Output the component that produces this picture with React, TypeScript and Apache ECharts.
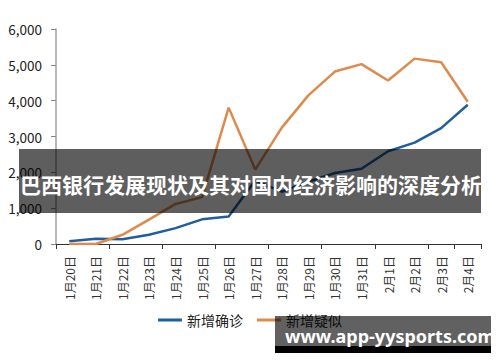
import React, { useEffect, useRef } from "react";
import * as echarts from "echarts";

const categories = [
  "1月20日", "1月21日", "1月22日", "1月23日", "1月24日", "1月25日", "1月26日", "1月27日",
  "1月28日", "1月29日", "1月30日", "1月31日", "2月1日", "2月2日", "2月3日", "2月4日",
];
const confirmed = [77, 149, 131, 259, 444, 688, 769, 1771, 1459, 1737, 1982, 2102, 2590, 2829, 3235, 3887];
const suspected = [0, 0, 257, 680, 1118, 1309, 3806, 2077, 3248, 4148, 4812, 5019, 4562, 5173, 5072, 3971];
const seriesNames = ["新增确诊", "新增疑似"];
const bannerTitle = "巴西银行发展现状及其对国内经济影响的深度分析";
const watermark = "www.app-yysports.com";

const FONT = "'Noto Sans CJK SC', 'Noto Sans', sans-serif";

export default function App() {
  const ref = useRef<HTMLDivElement>(null);
  useEffect(() => {
    if (!ref.current) return;
    const chart = echarts.init(ref.current, undefined, { renderer: "svg" });
    chart.setOption({
      animation: false,
      backgroundColor: "#ffffff",
      textStyle: { fontFamily: FONT },
      grid: { left: 56, right: 19, top: 29, bottom: 118, containLabel: false },
      legend: {
        data: seriesNames,
        bottom: 30,
        left: "center",
        icon: "rect",
        itemWidth: 24,
        itemHeight: 3,
        itemGap: 14,
        textStyle: { fontSize: 14, color: "#222", fontFamily: FONT },
      },
      xAxis: {
        type: "category",
        data: categories,
        boundaryGap: true,
        axisLine: { lineStyle: { color: "#333", width: 1.2 } },
        axisTick: { show: true, interval: 1, length: 5, alignWithLabel: false, lineStyle: { color: "#333" } },
        axisLabel: { rotate: 90, interval: 0, fontSize: 12, color: "#333", margin: 12, fontFamily: FONT },
      },
      yAxis: {
        type: "value",
        min: 0,
        max: 6000,
        interval: 1000,
        axisLine: { show: true, lineStyle: { color: "#a0a0a0", width: 1.5 } },
        axisTick: { show: true, length: 5, lineStyle: { color: "#888" } },
        splitLine: { show: false },
        axisLabel: {
          fontSize: 13.5,
          color: "#222",
          margin: 14,
          fontFamily: FONT,
          formatter: (v: number) => v.toLocaleString("en-US"),
        },
      },
      series: [
        {
          name: seriesNames[0],
          type: "line",
          data: confirmed,
          showSymbol: false,
          symbol: "none",
          lineStyle: { color: "#1f5f9e", width: 2.5 },
          itemStyle: { color: "#1f5f9e" },
        },
        {
          name: seriesNames[1],
          type: "line",
          data: suspected,
          showSymbol: false,
          symbol: "none",
          lineStyle: { color: "#dd8a4c", width: 2.5 },
          itemStyle: { color: "#dd8a4c" },
        },
      ],
      graphic: [
        {
          type: "rect",
          z: 100,
          shape: { x: 19, y: 149, width: 462, height: 64 },
          style: { fill: "rgba(0,0,0,0.63)" },
        },
        {
          type: "text",
          z: 101,
          x: 20,
          y: 184,
          style: {
            text: bannerTitle,
            fill: "#ffffff",
            font: `bold 21px ${FONT}`,
            verticalAlign: "middle",
            align: "left",
          },
        },
        {
          type: "rect",
          z: 100,
          shape: { x: 275, y: 316, width: 216, height: 30 },
          style: { fill: "rgba(0,0,0,0.62)" },
        },
        {
          type: "rect",
          z: 100,
          shape: { x: 275, y: 346, width: 216, height: 7 },
          style: { fill: "#000000" },
        },
        {
          type: "text",
          z: 101,
          x: 285,
          y: 336,
          style: {
            text: watermark,
            fill: "#ffffff",
            font: `bold 18px 'Noto Sans', sans-serif`,
            verticalAlign: "middle",
            align: "left",
          },
        },
      ],
    });
    return () => chart.dispose();
  }, []);
  return <div ref={ref} style={{ width: 500, height: 362, position: "absolute", left: 0, top: 0 }} />;
}
